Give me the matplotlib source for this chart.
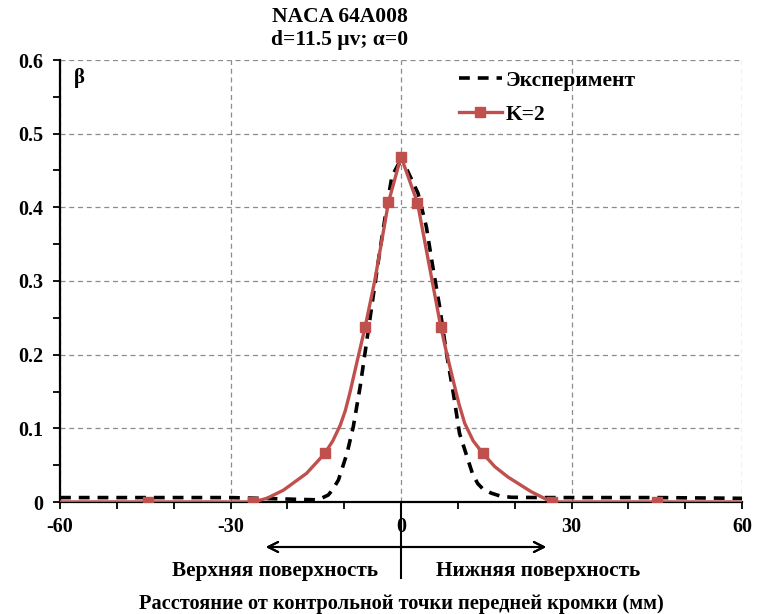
# coding: utf-8
import numpy as np
import matplotlib.pyplot as plt
from matplotlib.lines import Line2D
from matplotlib.ticker import MultipleLocator, FuncFormatter

## Data
exp_x = [-60, -45, -30, -25, -20, -15, -14, -12.8, -12, -11, -9.5, -8.4, -7.2, -6,
         -4.9, -3.7, -2.5, -1.6, -0.5, 1, 3, 4.45, 5.6, 6.8, 8, 9.2, 10.3, 11.8,
         12.6, 13.5, 14.5, 15.9, 17.5, 19.4, 25, 30, 45, 60]
exp_y = [0.006, 0.006, 0.006, 0.005, 0.004, 0.003, 0.005, 0.0095, 0.017, 0.03,
         0.066, 0.102, 0.156, 0.22, 0.279, 0.342, 0.401, 0.442, 0.458, 0.452,
         0.419, 0.374, 0.319, 0.265, 0.202, 0.148, 0.093, 0.057, 0.038, 0.025,
         0.017, 0.012, 0.008, 0.0064, 0.006, 0.006, 0.006, 0.005]

# K=2 curve (smoothed line) and its markers
k2_x = [-60, -44.5, -26, -23.6, -20.7, -16.6, -13.4, -12.0, -10.7, -9.8, -9.0,
        -7.6, -6.3, -4.6, -2.2, 0, 2.9, 7.0, 8.0, 9.15, 10.2, 11.2, 12.7, 14.4,
        16.5, 18.8, 22.9, 26.5, 45, 60]
k2_y = [0, 0, 0, 0.005, 0.016, 0.039, 0.066, 0.083, 0.104, 0.124, 0.148, 0.195,
        0.238, 0.301, 0.407, 0.469, 0.406, 0.238, 0.203, 0.166, 0.133, 0.107,
        0.083, 0.066, 0.048, 0.034, 0.014, 0, 0, 0]
k2_mark_x = [-44.5, -26, -13.4, -6.3, -2.2, 0, 2.9, 7.0, 14.4, 26.5, 45]
k2_mark_y = [0, 0, 0.066, 0.238, 0.407, 0.469, 0.406, 0.238, 0.066, 0, 0]

x_ticks = [-60, -30, 0, 30, 60]
y_ticks = [0, 0.1, 0.2, 0.3, 0.4, 0.5, 0.6]

plt.rcParams['font.family'] = ['Liberation Serif', 'DejaVu Serif']
plt.rcParams['font.weight'] = 'bold'
plt.rcParams['axes.unicode_minus'] = False

W, H = 758, 614
fig = plt.figure(figsize=(W / 100, H / 100), dpi=100)
ax = fig.add_axes([60 / W, 112 / H, 682 / W, 442 / H])

red = '#C0504D'
ax.plot(exp_x, exp_y, color='black', lw=2.6, linestyle=(0, (3, 2.2)),
        label='Эксперимент', zorder=3)
ax.plot(k2_x, k2_y, color=red, lw=2.4, zorder=4)
ax.plot(k2_mark_x, k2_mark_y, color=red, lw=0, marker='s', markersize=7.5,
        zorder=5)
# legend proxy for line + marker
ax.plot([], [], color=red, lw=2.4, marker='s', markersize=7.5, label='K=2')

ax.set_xlim(-60, 60)
ax.set_ylim(0, 0.6)
ax.set_xticks(x_ticks)
ax.set_yticks(y_ticks)
ax.xaxis.set_minor_locator(MultipleLocator(10))
ax.yaxis.set_minor_locator(MultipleLocator(0.05))
ax.yaxis.set_major_formatter(FuncFormatter(lambda v, p: '0' if v == 0 else '%.1f' % v))
ax.tick_params(which='both', direction='out', length=5, width=1.3, labelsize=14.5,
               colors='black')
ax.tick_params(axis='x', pad=6)
ax.tick_params(axis='y', pad=7)
ax.grid(True, which='major', color='#8c8c8c', linestyle=(0, (4, 3)), lw=0.9)
ax.spines['top'].set_visible(False)
ax.spines['right'].set_visible(False)
ax.spines['left'].set_linewidth(1.6)
ax.spines['bottom'].set_linewidth(1.6)

ax.text(-57.5, 0.575, 'β', fontsize=15, fontweight='bold', va='center')

leg = ax.legend(loc='upper left', bbox_to_anchor=(0.556, 1.02), frameon=False,
                fontsize=15.5, handlelength=2.0, handletextpad=0.2,
                labelspacing=0.65)

## Title
fig.text(340 / W, 1 - 17 / H, 'NACA 64A008', ha='center', va='center',
         fontsize=15.5, fontweight='bold')
fig.text(340 / W, 1 - 40 / H, 'd=11.5 µv; α=0', ha='center', va='center',
         fontsize=15.5, fontweight='bold')

## Surface arrow and labels below the axis
ax_y = lambda py: 1 - py / H
fig.add_artist(Line2D([401 / W, 401 / W], [ax_y(502), ax_y(578)], color='black',
                      lw=1.5, transform=fig.transFigure))
fig.add_artist(plt.annotate('', xy=(263 / W, ax_y(547)), xytext=(549 / W, ax_y(547)),
                            xycoords='figure fraction', textcoords='figure fraction',
                            arrowprops=dict(arrowstyle='<->', color='black', lw=1.5,
                                            mutation_scale=18)))
fig.text(275 / W, ax_y(571), 'Верхняя поверхность', ha='center', va='center',
         fontsize=15.3, fontweight='bold')
fig.text(538 / W, ax_y(571), 'Нижняя поверхность', ha='center', va='center',
         fontsize=15.3, fontweight='bold')
fig.text(401 / W, ax_y(604), 'Расстояние от контрольной точки передней кромки (мм)',
         ha='center', va='center', fontsize=14.7, fontweight='bold')

plt.savefig('out.png', dpi=100)
